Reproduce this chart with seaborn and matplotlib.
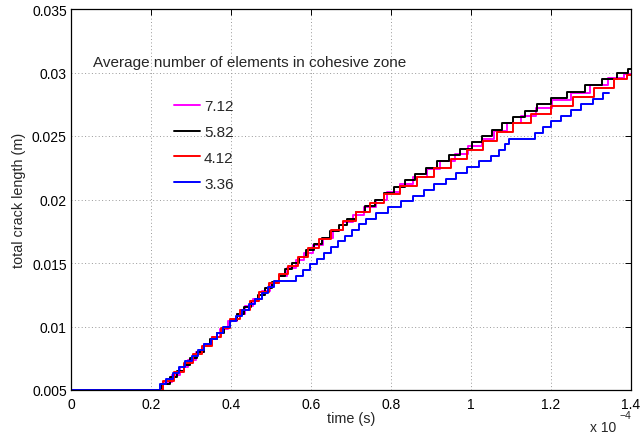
import matplotlib
matplotlib.use("Agg")
import matplotlib.pyplot as plt
import seaborn as sns
import pandas as pd
from matplotlib.lines import Line2D

# ---------------- data (time in units of 1e-4 s, crack length in m) ----------------
labels = ["7.12", "5.82", "4.12", "3.36"]
colors = ["#ff00ff", "#000000", "#ff0000", "#0000ff"]

t_712 = [0.0, 0.2150, 0.2426, 0.2627, 0.2828, 0.3029, 0.3230, 0.3431, 0.3632, 0.3833,
         0.4035, 0.4246, 0.4456, 0.4667, 0.4877, 0.5088, 0.5298, 0.5509, 0.5719, 0.5930,
         0.6167, 0.6417, 0.6667, 0.6917, 0.7190, 0.7476, 0.7762, 0.8056, 0.8389, 0.8722,
         0.9059, 0.9412, 0.9765, 1.0105, 1.0421, 1.0737, 1.1063, 1.1438, 1.1813, 1.2250,
         1.2750, 1.3214, 1.3643, 1.4000]
L_712 = [0.0050, 0.0050, 0.0056, 0.0062, 0.0068, 0.0074, 0.0080, 0.0086, 0.0092, 0.0098,
         0.0104, 0.0110, 0.0116, 0.0122, 0.0128, 0.0134, 0.0140, 0.0146, 0.0152, 0.0158,
         0.0164, 0.0170, 0.0176, 0.0182, 0.0188, 0.0194, 0.0200, 0.0206, 0.0212, 0.0218,
         0.0224, 0.0230, 0.0236, 0.0242, 0.0248, 0.0254, 0.0260, 0.0266, 0.0272, 0.0278,
         0.0284, 0.0290, 0.0296, 0.0299]

t_582 = [0.0, 0.2150, 0.2394, 0.2562, 0.2731, 0.2899, 0.3067, 0.3233, 0.3400, 0.3567,
         0.3733, 0.3900, 0.4069, 0.4241, 0.4414, 0.4586, 0.4759, 0.4931, 0.5103, 0.5276,
         0.5448, 0.5621, 0.5793, 0.5966, 0.6167, 0.6375, 0.6583, 0.6792, 0.7000, 0.7238,
         0.7476, 0.7714, 0.7952, 0.8211, 0.8474, 0.8737, 0.9000, 0.9294, 0.9588, 0.9882,
         1.0150, 1.0400, 1.0650, 1.0900, 1.1188, 1.1500, 1.1813, 1.2182, 1.2636, 1.3077,
         1.3462, 1.3846, 1.4000]
L_582 = [0.0050, 0.0050, 0.0055, 0.0060, 0.0065, 0.0070, 0.0075, 0.0080, 0.0085, 0.0090,
         0.0095, 0.0100, 0.0105, 0.0110, 0.0115, 0.0120, 0.0125, 0.0130, 0.0135, 0.0140,
         0.0145, 0.0150, 0.0155, 0.0160, 0.0165, 0.0170, 0.0175, 0.0180, 0.0185, 0.0190,
         0.0195, 0.0200, 0.0205, 0.0210, 0.0215, 0.0220, 0.0225, 0.0230, 0.0235, 0.0240,
         0.0245, 0.0250, 0.0255, 0.0260, 0.0265, 0.0270, 0.0275, 0.0280, 0.0285, 0.0290,
         0.0295, 0.0300, 0.0303]

t_412 = [0.0, 0.2150, 0.2461, 0.2697, 0.2933, 0.3167, 0.3400, 0.3633, 0.3867, 0.4103,
         0.4345, 0.4586, 0.4828, 0.5069, 0.5310, 0.5552, 0.5793, 0.6043, 0.6348, 0.6652,
         0.6957, 0.7300, 0.7650, 0.8000, 0.8438, 0.8875, 0.9294, 0.9706, 1.0105, 1.0474,
         1.0842, 1.1267, 1.1733, 1.2250, 1.2833, 1.3333, 1.3800, 1.4000]
L_412 = [0.0050, 0.0050, 0.0057, 0.0064, 0.0071, 0.0078, 0.0085, 0.0092, 0.0099, 0.0106,
         0.0113, 0.0120, 0.0127, 0.0134, 0.0141, 0.0148, 0.0155, 0.0162, 0.0169, 0.0176,
         0.0183, 0.0190, 0.0197, 0.0204, 0.0211, 0.0218, 0.0225, 0.0232, 0.0239, 0.0246,
         0.0253, 0.0260, 0.0267, 0.0274, 0.0281, 0.0288, 0.0295, 0.0298]

t_336 = [0.0, 0.2225, 0.2384, 0.2542, 0.2701, 0.2859, 0.3018, 0.3177, 0.3335, 0.3494,
         0.3652, 0.3811, 0.3970, 0.4128, 0.4287, 0.4445, 0.4604, 0.4763, 0.4921, 0.5080,
         0.5625, 0.5800, 0.5975, 0.6150, 0.6325, 0.6500, 0.6675, 0.6850, 0.7025, 0.7200,
         0.7375, 0.7625, 0.7917, 0.8250, 0.8540, 0.8830, 0.9080, 0.9375, 0.9625, 0.9900,
         1.0200, 1.0500, 1.0700, 1.0850, 1.0950, 1.1600, 1.1800, 1.2000, 1.2250, 1.2500,
         1.2750, 1.3050, 1.3300, 1.3450]
L_336 = [0.00500, 0.00545, 0.00590, 0.00635, 0.00680, 0.00725, 0.00770, 0.00815, 0.00860, 0.00905,
         0.00950, 0.00995, 0.01040, 0.01085, 0.01130, 0.01175, 0.01220, 0.01265, 0.01310, 0.01355,
         0.01400, 0.01445, 0.01490, 0.01535, 0.01580, 0.01625, 0.01670, 0.01715, 0.01760, 0.01805,
         0.01850, 0.01895, 0.01940, 0.01985, 0.02030, 0.02075, 0.02120, 0.02165, 0.02210, 0.02255,
         0.02300, 0.02345, 0.02390, 0.02435, 0.02480, 0.02525, 0.02570, 0.02615, 0.02660, 0.02705,
         0.02750, 0.02795, 0.02840, 0.02840]

x_ticks = [0, 0.2, 0.4, 0.6, 0.8, 1.0, 1.2, 1.4]
x_ticklabels = ["0", "0.2", "0.4", "0.6", "0.8", "1", "1.2", "1.4"]
y_ticks = [0.005, 0.01, 0.015, 0.02, 0.025, 0.03, 0.035]
y_ticklabels = ["0.005", "0.01", "0.015", "0.02", "0.025", "0.03", "0.035"]

series = [(t_712, L_712, "steps-mid"), (t_582, L_582, "steps-mid"),
          (t_412, L_412, "steps-mid"), (t_336, L_336, "steps-post")]

# ---------------- style ----------------
sns.set_style("white")
plt.rcParams["font.family"] = ["Liberation Sans", "DejaVu Sans"]

FS = 10
FS_LEG = 11

fig = plt.figure(figsize=(6.41, 4.39), dpi=100)
ax = fig.add_axes([71 / 641, 1 - 391 / 439, 560 / 641, 381 / 439])

for (t, L, ds), lab, col in zip(series, labels, colors):
    df = pd.DataFrame({"time": t, "length": L})
    sns.lineplot(data=df, x="time", y="length", ax=ax, color=col, lw=1.4,
                 drawstyle=ds, estimator=None, sort=False, legend=False)

ax.set_xlim(0, 1.4)
ax.set_ylim(0.005, 0.035)
ax.set_xticks(x_ticks)
ax.set_xticklabels(x_ticklabels)
ax.set_yticks(y_ticks)
ax.set_yticklabels(y_ticklabels)
ax.tick_params(direction="in", length=4, width=0.7, top=True, right=True,
               labelsize=FS, colors="black")
ax.tick_params(axis="x", pad=5)
ax.tick_params(axis="y", pad=3)
ax.grid(True, color="0.6", linestyle=(0, (1, 2.5)), lw=0.7)
for s in ax.spines.values():
    s.set_color("black")
    s.set_linewidth(0.9)

ax.set_xlabel("time (s)", fontsize=10.4, labelpad=0)
ax.set_ylabel("total crack length (m)", fontsize=10.4, labelpad=4)

ax.text(0.039, 0.861, "Average number of elements in cohesive zone",
        transform=ax.transAxes, fontsize=FS_LEG, va="center", ha="left")

handles = [Line2D([0], [0], color=c, lw=1.4) for c in colors]
ax.legend(handles, labels, loc="upper left", bbox_to_anchor=(0.184, 0.763),
          frameon=False, fontsize=FS_LEG, handlelength=1.7, handletextpad=0.26,
          labelspacing=0.77, borderpad=0, borderaxespad=0)

fig.text(590 / 641, 1 - 428 / 439, "x 10", fontsize=FS, ha="left", va="center")
fig.text(619 / 641, 1 - 416 / 439, "\u22124", fontsize=7.5, ha="left", va="center")

fig.savefig("out.png", dpi=100)
